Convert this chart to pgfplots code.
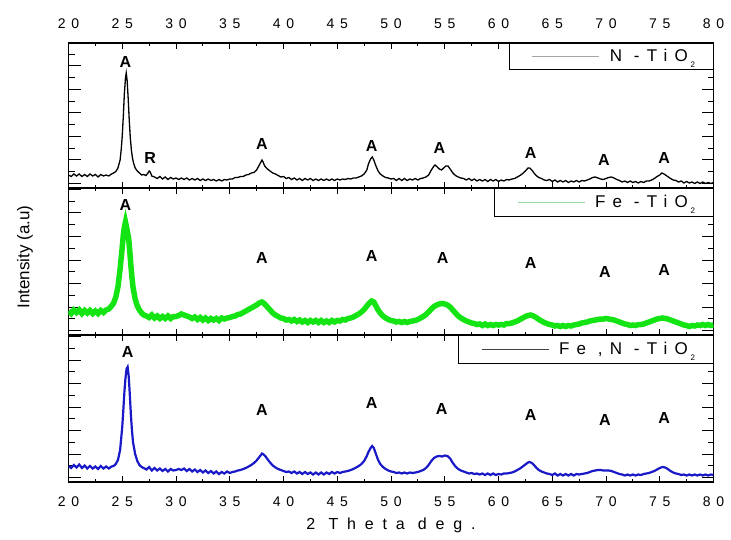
\documentclass[border=0pt]{standalone}
\usepackage{fontspec}
\setmainfont{Liberation Sans}
\newfontfamily\spaced{Liberation Sans}[LetterSpace=40]
\newfontfamily\legsp{Liberation Sans}[LetterSpace=42]
\newfontfamily\labsp{Liberation Sans}[LetterSpace=55]
\usepackage{pgfplots}
\pgfplotsset{compat=1.18}
\definecolor{cgreen}{RGB}{20,228,20}
\definecolor{cblue}{RGB}{25,25,200}
\definecolor{clegg}{RGB}{150,215,160}
\tikzset{alab/.style={font=\bfseries\fontsize{16}{16}\selectfont, anchor=center}}
\newcommand{\sub}{\,\raisebox{-6pt}{\fontsize{8}{8}\selectfont 2}}
\pgfplotsset{
  panel/.style={
    scale only axis, width=645pt,
    xmin=20, xmax=80, ymin=0,
    xtick={20,25,...,80}, minor x tick num=1,
    ytick={4.5,28,...,145}, minor y tick num=1,
    yticklabels={},
    tick align=inside,
    xtick pos=both, ytick pos=both,
    major tick length=12pt, minor tick length=6pt,
    xtick style={/pgfplots/major tick length=6pt,/pgfplots/minor tick length=3pt},
    every tick/.style={black, line width=1pt},
    axis line style={line width=1.1pt},
    /pgf/number format/assume math mode=true,
    xticklabel style={font=\spaced\fontsize{14}{14}\selectfont},
    legend style={at={(rel axis cs:1,1)}, anchor=north east, draw=black, line width=0.8pt,
      font=\legsp\fontsize{17}{17}\selectfont, inner sep=0pt, nodes={inner sep=0pt},
      /tikz/column sep=0pt, cells={anchor=west}},
  },
}
\begin{document}
\begin{tikzpicture}
\path[use as bounding box] (0,0) rectangle (731pt,539pt);
% ---------------- top: N-TiO2
\begin{axis}[panel, at={(68.5pt,351pt)}, anchor=south west, height=145pt, ymax=145,
  xticklabel pos=upper, xticklabel style={yshift=11pt}]
\addplot[black, line width=1.3pt, legend image code/.code={\path[draw=none] (0pt,-13pt) rectangle (89pt,13pt);\draw[gray!70, line width=0.8pt] (23pt,0pt) -- (90pt,0pt);}] coordinates {
(20.0,13) (20.25,11.5) (20.5,14) (20.75,12) (21.0,14) (21.25,11.5) (21.5,13.5) (21.75,11.5) (22.0,14) (22.25,12) (22.5,13.5) (22.75,11) (23.0,13.5) (23.25,12) (23.5,13) (23.75,12) (24.0,14) (24.2,15) (24.4,16.5) (24.6,20) (24.8,28) (24.9,38) (25.0,52) (25.1,72) (25.2,95) (25.3,110) (25.37,115) (25.45,108) (25.55,90) (25.65,68) (25.75,50) (25.85,38) (25.95,30) (26.05,25) (26.2,20) (26.4,17) (26.6,15) (26.8,13) (27.0,13.5) (27.2,12.5) (27.4,15) (27.5,17) (27.6,16) (27.75,12) (28.0,11) (28.25,9.5) (28.5,11.5) (28.75,9) (29.0,11) (29.25,8.5) (29.5,10.5) (29.75,9) (30.0,10) (30.25,8.5) (30.5,10) (30.75,8.5) (31.0,10) (31.25,8) (31.5,9.5) (31.75,8) (32.0,9.5) (32.25,7.5) (32.5,9) (32.75,7.5) (33.0,9) (33.25,7.5) (33.5,8.5) (33.75,7) (34.0,8.5) (34.25,7) (34.5,8.5) (34.75,8) (35.0,9) (35.25,9) (35.5,10.5) (35.75,10.5) (36.0,11.5) (36.25,11.5) (36.5,13) (36.75,13.5) (37.0,15) (37.25,15.5) (37.5,18) (37.75,23) (37.9,26) (38.0,28) (38.1,26) (38.25,22) (38.5,19) (38.75,17) (39.0,15) (39.25,14) (39.5,12.5) (39.75,11) (40.0,11.5) (40.25,9.5) (40.5,10.5) (40.75,8.5) (41.0,10) (41.25,8) (41.5,9.5) (41.75,7.5) (42.0,9.5) (42.25,8) (42.5,9.5) (42.75,7.5) (43.0,9) (43.25,7.5) (43.5,9) (43.75,7.5) (44.0,9) (44.25,7.5) (44.5,9) (44.75,7.5) (45.0,9) (45.25,8) (45.5,9) (45.75,8.5) (46.0,9.5) (46.25,9) (46.5,10) (46.75,10) (47.0,11) (47.25,12) (47.5,14) (47.75,18) (47.9,24) (48.1,29) (48.25,31) (48.4,28) (48.6,22) (48.8,17) (49.0,14) (49.25,12) (49.5,10.5) (49.75,10) (50.0,9) (50.25,9.5) (50.5,7.5) (50.75,9.5) (51.0,7.5) (51.25,9.5) (51.5,7.5) (51.75,9) (52.0,8) (52.25,9.5) (52.5,8) (52.75,9.5) (53.0,10) (53.25,11) (53.5,13) (53.75,18) (54.0,22) (54.1,23) (54.3,21) (54.5,19) (54.7,18) (54.9,20) (55.1,22) (55.3,22) (55.5,19) (55.75,15) (56.0,12.5) (56.25,11) (56.5,10) (56.75,9.5) (57.0,8) (57.25,9.5) (57.5,7.5) (57.75,9) (58.0,7) (58.25,8.5) (58.5,7) (58.75,8.5) (59.0,6.5) (59.25,8.5) (59.5,7) (59.75,8.5) (60.0,6.5) (60.25,8) (60.5,7) (60.75,8.5) (61.0,8) (61.25,9) (61.5,9.5) (61.75,11) (62.0,12.5) (62.25,14.5) (62.5,17) (62.75,20) (62.9,20) (63.1,18) (63.3,15) (63.5,12.5) (63.75,10.5) (64.0,9.5) (64.25,8) (64.5,7.5) (64.75,8.5) (65.0,6.5) (65.25,8) (65.5,6) (65.75,7.5) (66.0,6) (66.25,7.5) (66.5,5.5) (66.75,7) (67.0,6) (67.25,7.5) (67.5,6) (67.75,7.5) (68.0,7) (68.25,8) (68.5,9) (68.75,10.5) (69.0,11) (69.25,10) (69.5,9) (69.75,8.5) (70.0,9.5) (70.25,10.5) (70.5,11) (70.75,10) (71.0,8.5) (71.25,7.5) (71.5,6) (71.75,7) (72.0,5.5) (72.25,7) (72.5,5.5) (72.75,6.5) (73.0,5) (73.25,6.5) (73.5,5.5) (73.75,7) (74.0,7) (74.25,8) (74.5,9.5) (74.75,11.5) (75.0,13) (75.2,15) (75.4,14) (75.6,12.5) (75.8,11) (76.0,9.5) (76.25,8) (76.5,7.5) (76.75,6) (77.0,7) (77.25,5) (77.5,6.5) (77.75,5) (78.0,6) (78.25,4.5) (78.5,6) (78.75,4.5) (79.0,6) (79.25,4.5) (79.5,5.5) (79.75,4.5) (80.0,5.5)
};
\addlegendentry{\hspace*{10pt}N -TiO\sub\hspace*{18pt}}
\node[alab] at (axis cs:25.3,126) {A};
\node[alab] at (axis cs:27.6,30) {R};
\node[alab] at (axis cs:38.0,44) {A};
\node[alab] at (axis cs:48.2,42) {A};
\node[alab] at (axis cs:54.5,40) {A};
\node[alab] at (axis cs:63.0,35) {A};
\node[alab] at (axis cs:69.8,28) {A};
\node[alab] at (axis cs:75.4,30) {A};
\end{axis}
% ---------------- middle: Fe-TiO2
\begin{axis}[panel, at={(68.5pt,204pt)}, anchor=south west, height=147pt, ymax=147,
  xticklabels={}, ylabel={Intensity (a.u)},
  ylabel style={font=\fontsize{17}{17}\selectfont, at={(rel axis cs:-0.0674,0.53)}, anchor=center}]
\addplot[cgreen, line width=5.5pt, legend image code/.code={\path[draw=none] (0pt,-14pt) rectangle (89pt,14pt);\draw[clegg, line width=0.8pt] (23pt,0pt) -- (90pt,0pt);}] coordinates {
(20.0,24) (20.25,21.5) (20.5,25) (20.75,22.5) (21.0,25) (21.25,21.5) (21.5,24.5) (21.75,22) (22.0,24.5) (22.25,21.5) (22.5,24) (22.75,21.5) (23.0,24.5) (23.25,22.5) (23.5,25) (23.75,26) (24.0,29) (24.2,32) (24.4,38) (24.6,48) (24.8,66) (25.0,88) (25.1,100) (25.2,108) (25.3,113) (25.4,108) (25.5,102) (25.6,96) (25.7,84) (25.8,70) (25.9,58) (26.0,48) (26.2,36) (26.4,29) (26.6,25) (26.8,22) (27.0,20) (27.25,19) (27.5,17.5) (27.75,20) (28.0,17) (28.25,19) (28.5,16.5) (28.75,18.5) (29.0,16.5) (29.25,19) (29.5,16.5) (29.75,18.5) (30.0,18.5) (30.25,19.5) (30.5,21) (30.75,20) (31.0,19) (31.25,18) (31.5,16.5) (31.75,18) (32.0,15.5) (32.25,17.5) (32.5,15) (32.75,17) (33.0,14.5) (33.25,16.5) (33.5,15) (33.75,16.5) (34.0,14.5) (34.25,17) (34.5,16) (34.75,17) (35.0,17.5) (35.25,18.5) (35.5,19) (35.75,20.5) (36.0,21) (36.25,22.5) (36.5,24) (36.75,25.5) (37.0,27) (37.25,28.5) (37.5,30) (37.75,32) (38.0,33) (38.25,31) (38.5,28) (38.75,25) (39.0,22) (39.25,20) (39.5,18.5) (39.75,17) (40.0,16.5) (40.25,15) (40.5,15.5) (40.75,14) (41.0,15.5) (41.25,13.5) (41.5,15) (41.75,13) (42.0,14.5) (42.25,12.5) (42.5,14.5) (42.75,13) (43.0,14.5) (43.25,12.5) (43.5,14.5) (43.75,12.5) (44.0,14) (44.25,12.5) (44.5,14.5) (44.75,13) (45.0,14.5) (45.25,14) (45.5,15.5) (45.75,15) (46.0,16.5) (46.25,17) (46.5,18) (46.75,19.5) (47.0,21) (47.25,23) (47.5,25.5) (47.75,29) (48.0,32) (48.2,34) (48.4,33) (48.6,29) (48.8,25) (49.0,22) (49.25,19) (49.5,17) (49.75,15.5) (50.0,14.5) (50.25,14) (50.5,13) (50.75,13.5) (51.0,12.5) (51.25,13.5) (51.5,12.5) (51.75,13.5) (52.0,14) (52.25,14.5) (52.5,15.5) (52.75,17) (53.0,18.5) (53.25,20.5) (53.5,23) (53.75,26) (54.0,28.5) (54.25,30) (54.5,31) (54.75,31.5) (55.0,31) (55.25,30) (55.5,28) (55.75,25) (56.0,22) (56.25,19) (56.5,17) (56.75,15.5) (57.0,14) (57.25,13) (57.5,12) (57.75,11.5) (58.0,10.5) (58.25,11) (58.5,9.5) (58.75,11) (59.0,9.5) (59.25,10.5) (59.5,9.5) (59.75,10.5) (60.0,10) (60.25,10.5) (60.5,10) (60.75,11.5) (61.0,11.5) (61.25,12) (61.5,13) (61.75,14) (62.0,15.5) (62.25,17) (62.5,18.5) (62.75,19.5) (63.0,20) (63.25,19) (63.5,17.5) (63.75,15.5) (64.0,14) (64.25,12.5) (64.5,11.5) (64.75,10.5) (65.0,10) (65.25,9) (65.5,9.5) (65.75,8.5) (66.0,9.5) (66.25,8.5) (66.5,9.5) (66.75,9) (67.0,10) (67.25,10.5) (67.5,11) (67.75,12) (68.0,12.5) (68.25,13) (68.5,14) (68.75,14.5) (69.0,15) (69.25,15.5) (69.5,16) (69.75,16) (70.0,16.5) (70.25,16) (70.5,15.5) (70.75,15) (71.0,14) (71.25,13) (71.5,12) (71.75,11) (72.0,10.5) (72.25,9.5) (72.5,10) (72.75,9.5) (73.0,10.5) (73.25,10.5) (73.5,11) (73.75,12) (74.0,13) (74.25,14) (74.5,15) (74.75,16) (75.0,16.5) (75.25,17) (75.5,16.5) (75.75,16) (76.0,15) (76.25,14) (76.5,13) (76.75,12) (77.0,11) (77.25,10) (77.5,9.5) (77.75,8.5) (78.0,9.5) (78.25,9) (78.5,10) (78.75,9.5) (79.0,10.5) (79.25,9.5) (79.5,10.5) (79.75,9.5) (80.0,10)
};
\addlegendentry{\hspace*{10pt}Fe -TiO\sub\hspace*{18pt}}
\node[alab] at (axis cs:25.3,130) {A};
\node[alab] at (axis cs:38.0,77) {A};
\node[alab] at (axis cs:48.2,79) {A};
\node[alab] at (axis cs:54.8,77) {A};
\node[alab] at (axis cs:63.0,72) {A};
\node[alab] at (axis cs:69.9,63) {A};
\node[alab] at (axis cs:75.4,65) {A};
\end{axis}
% ---------------- bottom: Fe,N-TiO2
\begin{axis}[panel, at={(68.5pt,57pt)}, anchor=south west, height=147pt, ymax=147,
  xticklabel pos=lower, xticklabel style={yshift=-11pt}, xlabel={2 Theta deg.},
  xlabel style={font=\labsp\fontsize{16}{16}\selectfont, yshift=-5pt}]
\addplot[cblue, line width=2.2pt, legend image code/.code={\path[draw=none] (0pt,-14pt) rectangle (89pt,14pt);\draw[black!75, line width=0.8pt] (23pt,0pt) -- (90pt,0pt);}] coordinates {
(20.0,16) (20.25,14) (20.5,17) (20.75,14.5) (21.0,17.5) (21.25,14) (21.5,16.5) (21.75,13.5) (22.0,16) (22.25,13.5) (22.5,15.5) (22.75,13) (23.0,16) (23.25,13.5) (23.5,15.5) (23.75,13.5) (24.0,15.5) (24.2,16) (24.4,18) (24.6,22) (24.8,32) (25.0,55) (25.1,72) (25.2,90) (25.3,104) (25.4,113) (25.5,115) (25.6,106) (25.7,88) (25.8,68) (25.9,52) (26.0,40) (26.2,28) (26.4,21) (26.6,17) (26.8,15) (27.0,14) (27.25,12.5) (27.5,15) (27.75,11.5) (28.0,14) (28.25,11.5) (28.5,13.5) (28.75,11) (29.0,13) (29.25,10.5) (29.5,13) (29.75,11.5) (30.0,12) (30.25,13) (30.5,12) (30.75,13.5) (31.0,11) (31.25,13) (31.5,10.5) (31.75,12.5) (32.0,10) (32.25,12) (32.5,9.5) (32.75,11.5) (33.0,9) (33.25,11) (33.5,8.5) (33.75,10.5) (34.0,8) (34.25,10) (34.5,8.5) (34.75,10.5) (35.0,9) (35.25,10) (35.5,10.5) (35.75,11.5) (36.0,12) (36.25,13) (36.5,14) (36.75,15.5) (37.0,17) (37.25,19) (37.5,21.5) (37.75,25) (37.9,27) (38.0,28.5) (38.15,27.5) (38.3,26) (38.5,23) (38.75,19.5) (39.0,16.5) (39.25,14.5) (39.5,13) (39.75,12) (40.0,11) (40.25,10) (40.5,10.5) (40.75,9) (41.0,10.5) (41.25,8.5) (41.5,10) (41.75,8) (42.0,10) (42.25,8) (42.5,9.5) (42.75,7.5) (43.0,9.5) (43.25,7.5) (43.5,9.5) (43.75,7.5) (44.0,9.5) (44.25,8) (44.5,10) (44.75,8.5) (45.0,10) (45.25,9) (45.5,10) (45.75,10.5) (46.0,11) (46.25,12) (46.5,13) (46.75,14.5) (47.0,16) (47.25,18) (47.5,21) (47.75,26) (47.9,30) (48.1,34) (48.25,36) (48.4,34) (48.6,28) (48.8,22) (49.0,18) (49.25,15) (49.5,13) (49.75,11.5) (50.0,10.5) (50.25,10) (50.5,9) (50.75,9.5) (51.0,8.5) (51.25,9.5) (51.5,8.5) (51.75,9.5) (52.0,9) (52.25,9.5) (52.5,10) (52.75,11) (53.0,12) (53.25,14) (53.5,17) (53.75,21) (54.0,24) (54.25,25.5) (54.5,26) (54.75,25.5) (55.0,26.5) (55.25,26) (55.5,23.5) (55.75,19) (56.0,15.5) (56.25,13) (56.5,11.5) (56.75,10.5) (57.0,9.5) (57.25,8.5) (57.5,9) (57.75,8) (58.0,8.5) (58.25,7.5) (58.5,8.5) (58.75,7) (59.0,8.5) (59.25,7) (59.5,8.5) (59.75,7) (60.0,8) (60.25,7.5) (60.5,8.5) (60.75,8.5) (61.0,9) (61.25,9.5) (61.5,10.5) (61.75,12) (62.0,13.5) (62.25,15.5) (62.5,17.5) (62.75,19.5) (62.9,20) (63.1,19) (63.3,17) (63.5,14.5) (63.75,12) (64.0,10.5) (64.25,9.5) (64.5,8.5) (64.75,8) (65.0,7) (65.25,8.5) (65.5,6.5) (65.75,8) (66.0,6.5) (66.25,8) (66.5,6.5) (66.75,8) (67.0,6.5) (67.25,8) (67.5,7.5) (67.75,8) (68.0,8.5) (68.25,9) (68.5,10) (68.75,11) (69.0,11.5) (69.25,12) (69.5,12) (69.75,11.5) (70.0,11.5) (70.25,11.5) (70.5,11) (70.75,10) (71.0,9) (71.25,8) (71.5,7.5) (71.75,6.5) (72.0,7.5) (72.25,6.5) (72.5,7.5) (72.75,6.5) (73.0,7.5) (73.25,7) (73.5,8) (73.75,8.5) (74.0,9) (74.25,10) (74.5,11) (74.75,12.5) (75.0,14) (75.25,15) (75.5,14.5) (75.75,13) (76.0,11) (76.25,9.5) (76.5,8.5) (76.75,8) (77.0,7) (77.25,7.5) (77.5,6.5) (77.75,7.5) (78.0,6.5) (78.25,7.5) (78.5,6.5) (78.75,7.5) (79.0,6.5) (79.25,7.5) (79.5,6.5) (79.75,7.5) (80.0,7)
};
\addlegendentry{\hspace*{10pt}Fe ,N -TiO\sub\hspace*{18pt}}
\node[alab] at (axis cs:25.5,130) {A};
\node[alab] at (axis cs:38.0,72) {A};
\node[alab] at (axis cs:48.2,79) {A};
\node[alab] at (axis cs:54.7,73) {A};
\node[alab] at (axis cs:63.0,67) {A};
\node[alab] at (axis cs:69.9,62) {A};
\node[alab] at (axis cs:75.4,64) {A};
\end{axis}
\end{tikzpicture}
\end{document}
